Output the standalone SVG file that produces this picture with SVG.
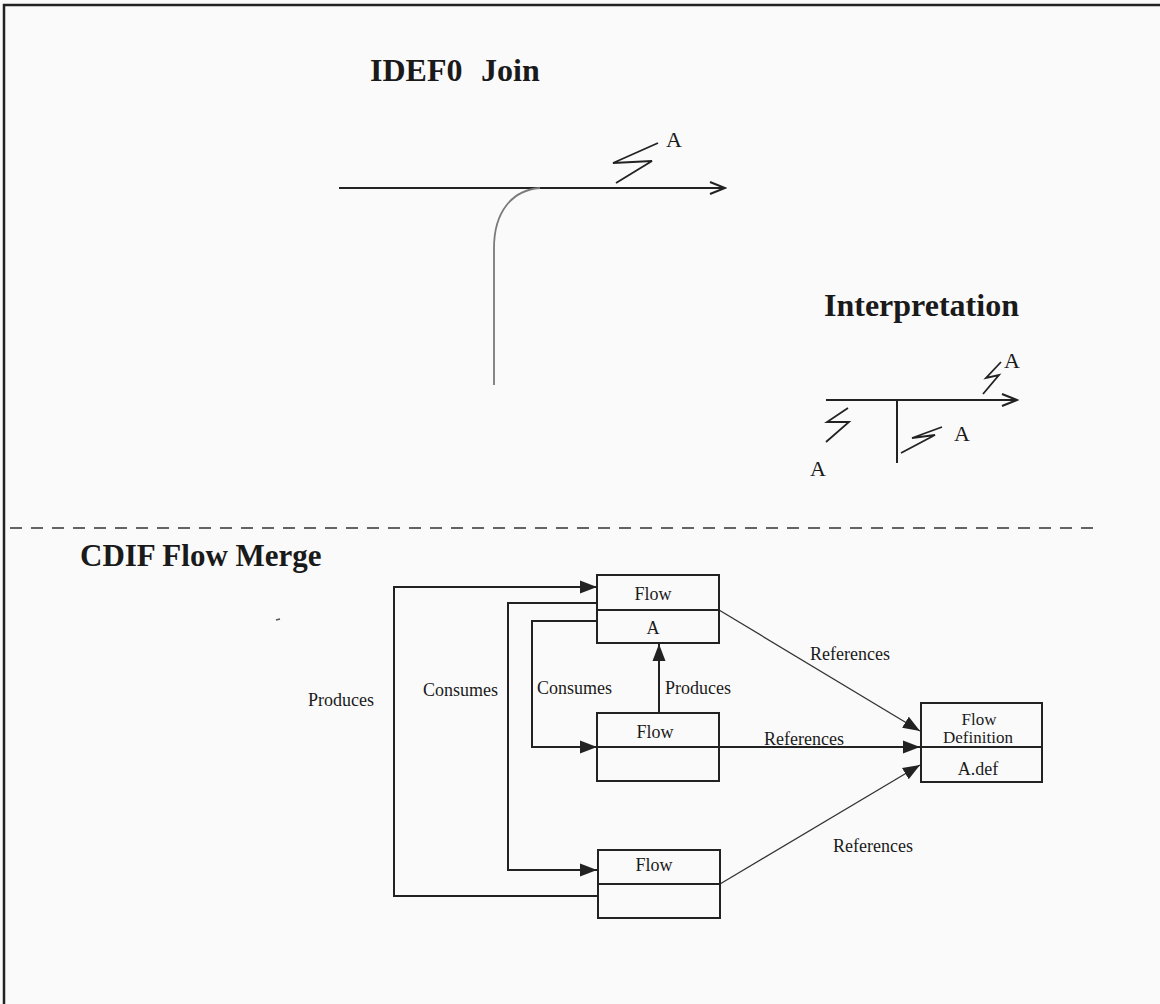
<svg xmlns="http://www.w3.org/2000/svg" width="1160" height="1004" viewBox="0 0 1160 1004">
<defs>
<marker id="open" markerWidth="18" markerHeight="14" refX="16" refY="7" orient="auto" markerUnits="userSpaceOnUse">
<path d="M1,1 L16,7 L1,13" fill="none" stroke="#222" stroke-width="2"/>
</marker>
<marker id="filled" markerWidth="18" markerHeight="14" refX="17" refY="7" orient="auto" markerUnits="userSpaceOnUse">
<path d="M0,0.5 L17,7 L0,13.5 Z" fill="#222"/>
</marker>
<style>
.bg{fill:#fafafa}
.frame{stroke:#222;stroke-width:2.5;fill:none}
.title{font-family:"Liberation Serif","Times New Roman",serif;font-weight:bold;font-size:32px;fill:#1a1a1a}
.lbl{font-family:"Liberation Serif","Times New Roman",serif;font-size:18px;fill:#1a1a1a}
.sm{font-size:17px}
.big{font-family:"Liberation Serif","Times New Roman",serif;font-size:22px;fill:#1a1a1a}
.ln{stroke:#222;stroke-width:2;fill:none}
.thin{stroke:#333;stroke-width:1.3;fill:none}
.sq{stroke:#222;stroke-width:1.8;fill:none;stroke-linejoin:miter}
.box{fill:none;stroke:#222;stroke-width:2}
.mid{text-anchor:middle}
</style>
</defs>
<rect class="bg" x="0" y="0" width="1160" height="1004"/>
<path class="frame" d="M4,1004 L4,5 L1160,5"/>

<g id="idef0-join">
<text class="title" x="370" y="81">IDEF0<tspan x="481">Join</tspan></text>
<line class="ln" x1="339" y1="188" x2="725" y2="188" marker-end="url(#open)"/>
<path d="M494,385 L494,248 C494,212 512,190 540,188" fill="none" stroke="#7a7a7a" stroke-width="1.8"/>
<path class="sq" d="M658,143 L613,163 L652,161 L616,183"/>
<text class="big" x="666" y="147">A</text>
</g>

<g id="interpretation">
<text class="title" x="824" y="316">Interpretation</text>
<line class="ln" x1="826" y1="400" x2="1017" y2="400" marker-end="url(#open)"/>
<line class="ln" x1="897" y1="401" x2="897" y2="463"/>
<path class="sq" d="M1001,362 L986,378 L999,375 L983,394"/>
<text class="big" x="1004" y="368">A</text>
<path class="sq" d="M848,408 L827,422 L849,422 L826,442"/>
<text class="big" x="810" y="476">A</text>
<path class="sq" d="M942,427 L912,438 L935,435 L901,453"/>
<text class="big" x="954" y="441">A</text>
</g>

<line id="separator" x1="10" y1="528" x2="1102" y2="528" stroke="#333" stroke-width="1.5" stroke-dasharray="12 9"/>

<text id="cdif-title" class="title" x="80" y="566" style="font-size:31px">CDIF Flow Merge</text>
<line x1="276" y1="620" x2="280" y2="619" stroke="#555" stroke-width="1.5"/>

<g id="connectors">
<path class="ln" d="M598,896 L394,896 L394,587 L597,587" marker-end="url(#filled)"/>
<path class="ln" d="M597,603 L508,603 L508,870 L597,870" marker-end="url(#filled)"/>
<path class="ln" d="M597,621 L532,621 L532,747 L597,747" marker-end="url(#filled)"/>
<line class="ln" x1="597" y1="747" x2="920" y2="747" marker-end="url(#filled)"/>
<line class="ln" x1="659" y1="713" x2="659" y2="644" marker-end="url(#filled)"/>
<line class="thin" x1="719" y1="610" x2="920" y2="731" marker-end="url(#filled)"/>
<line class="thin" x1="720" y1="884" x2="920" y2="765" marker-end="url(#filled)"/>
<text class="lbl" x="308" y="706">Produces</text>
<text class="lbl" x="423" y="696">Consumes</text>
<text class="lbl" x="537" y="694">Consumes</text>
<text class="lbl" x="665" y="694">Produces</text>
<text class="lbl" x="810" y="660">References</text>
<text class="lbl" x="764" y="745">References</text>
<text class="lbl" x="833" y="852">References</text>
</g>

<g id="flow-a">
<rect class="box" x="597" y="575" width="122" height="68" fill="none"/>
<line class="ln" x1="597" y1="610" x2="719" y2="610"/>
<text class="lbl mid" x="653" y="600">Flow</text>
<text class="lbl mid" x="653" y="634">A</text>
</g>

<g id="flow-middle">
<rect class="box" x="597" y="713" width="122" height="68"/>
<text class="lbl mid" x="655" y="738">Flow</text>
</g>

<g id="flow-bottom">
<rect class="box" x="598" y="850" width="122" height="68"/>
<line class="ln" x1="598" y1="884" x2="720" y2="884"/>
<text class="lbl mid" x="654" y="871">Flow</text>
</g>

<g id="flow-definition">
<rect class="box" x="921" y="703" width="121" height="79"/>
<line class="ln" x1="921" y1="747" x2="1042" y2="747"/>
<text class="lbl sm mid" x="979" y="725">Flow</text>
<text class="lbl sm mid" x="978" y="743">Definition</text>
<text class="lbl mid" x="978" y="775">A.def</text>
</g>
</svg>
